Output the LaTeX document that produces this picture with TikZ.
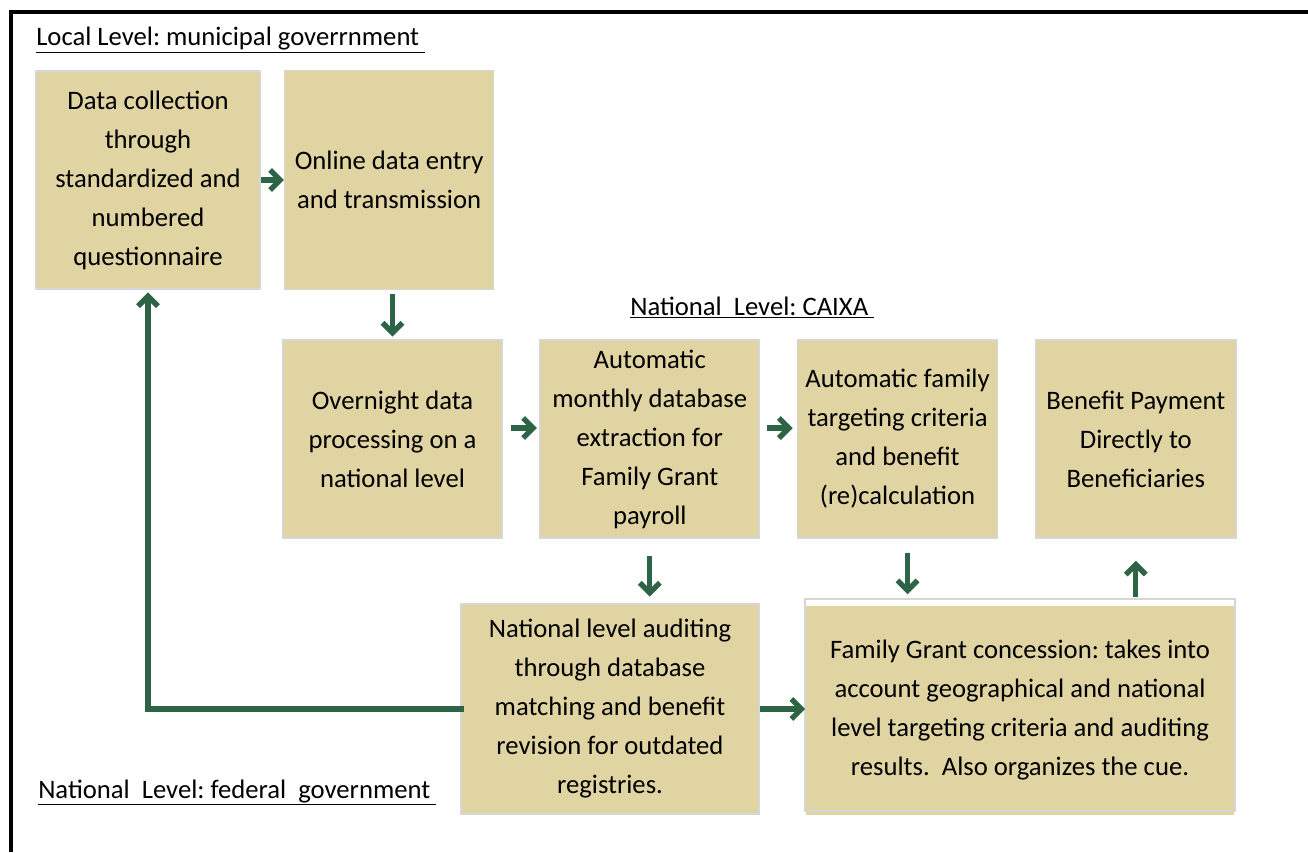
\documentclass[tikz,border=0pt]{standalone}
\usepackage{fontspec}
\setmainfont{Carlito}
\usepackage{xcolor}
\usetikzlibrary{arrows.meta,positioning}
\definecolor{GTan}{HTML}{E1D4A3}
\definecolor{GEdge}{HTML}{D6D6D6}
\definecolor{GGreen}{HTML}{2E6446}
\frenchspacing

\begin{document}
\begin{tikzpicture}[
  x=0.75pt,y=-0.75pt,
  font=\fontsize{20}{29.25}\selectfont,
  box/.style={draw=GEdge,line width=1.2pt,fill=GTan,inner sep=0pt,
    align=center,minimum height=148.5pt},
  lbl/.style={anchor=base west,inner sep=0pt},
  a/.style={-{Straight Barb[length=7.5pt,width=15pt]},line width=4pt,color=GGreen}
]
  \useasboundingbox (0,0) rectangle (1308,852);
  \draw[line width=2.4pt] (11,852) -- (11,12) -- (1308,12);

  \node[lbl] (local) at (36,46) {\underline{Local Level: municipal goverrnment\ }};
  \node[lbl] (caixa) at (630,315) {\underline{National~ Level:~CAIXA\ }};
  \node[lbl] (federal) at (38,798) {\underline{National~ Level:~federal~ government\ }};

  \node[box,minimum width=168pt,minimum height=163.5pt] (collect) at (148,180)
    {Data collection\\through\\standardized and\\numbered\\questionnaire};
  \node[box,minimum width=156.75pt,minimum height=164.25pt,right=17.25pt of collect] (entry)
    {Online data entry\\and transmission};
  \node[box,minimum width=164.25pt] (overnight) at (392.5,439)
    {Overnight data\\processing on a\\national level};
  \node[box,minimum width=164.25pt,right=27.5pt of overnight] (extract)
    {Automatic\\monthly database\\extraction for\\Family Grant\\payroll};
  \node[box,minimum width=150pt,right=27.5pt of extract] (target)
    {Automatic family\\targeting criteria\\and benefit\\(re)calculation};
  \node[box,minimum width=150pt,right=27.5pt of target] (payment)
    {Benefit Payment\\Directly to\\Beneficiaries};
  \node[box,minimum width=223.5pt,minimum height=157.5pt] (audit) at (610,709)
    {National level auditing\\through database\\matching and benefit\\revision for outdated\\registries.};
  \node[box,draw=none,minimum width=321pt,minimum height=156.75pt] (grant) at (1020,710.5)
    {Family Grant concession: takes into\\account geographical and national\\level targeting criteria and auditing\\results.\ \ Also organizes the cue.};
  \draw[draw=GEdge,line width=1.2pt] ([yshift=4.5pt]grant.north west) rectangle ([yshift=3.75pt]grant.south east);

  \draw[a] (collect.east) -- (collect.east -| entry.west);
  \draw[a,shorten <=3pt,shorten >=2pt] (overnight.north |- entry.south) -- (overnight.north);
  \draw[a,shorten <=6pt,shorten >=2pt] ([yshift=8.25pt]overnight.east) -- ([yshift=8.25pt]extract.west);
  \draw[a,shorten <=5pt,shorten >=3pt] ([yshift=8.25pt]extract.east) -- ([yshift=8.25pt]target.west);
  \draw[a,shorten <=12.75pt,shorten >=5pt] (extract.south) -- (extract.south |- audit.north);
  \draw[a,shorten <=10.5pt,shorten >=8.25pt] ([xshift=7.5pt]target.south) -- ([xshift=7.5pt]target.south |- grant.north);
  \draw[a,shorten <=6pt,shorten >=16.5pt] (payment.south |- grant.north) -- (payment.south);
  \draw[a] (audit.east) -- (audit.east -| grant.west);
  \draw[a,shorten >=2pt] ([xshift=3pt]audit.west) -| (collect.south);
\end{tikzpicture}
\end{document}
